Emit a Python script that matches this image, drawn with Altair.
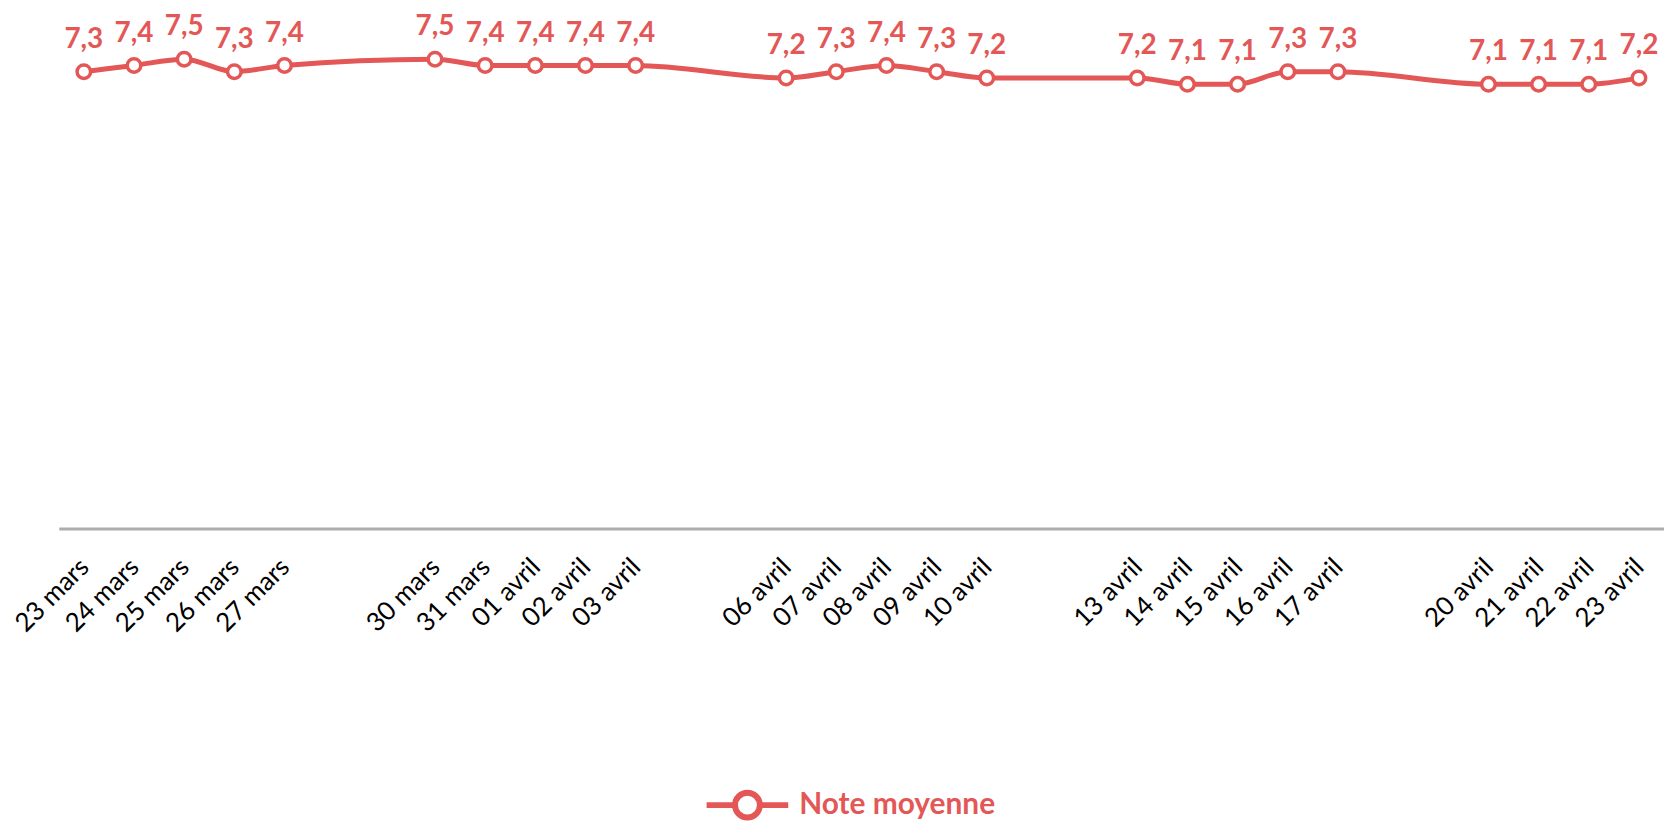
import altair as alt
import pandas as pd

dates = ["2020-03-23", "2020-03-24", "2020-03-25", "2020-03-26", "2020-03-27",
         "2020-03-30", "2020-03-31", "2020-04-01", "2020-04-02", "2020-04-03",
         "2020-04-06", "2020-04-07", "2020-04-08", "2020-04-09", "2020-04-10",
         "2020-04-13", "2020-04-14", "2020-04-15", "2020-04-16", "2020-04-17",
         "2020-04-20", "2020-04-21", "2020-04-22", "2020-04-23"]
notes = [7.3, 7.4, 7.5, 7.3, 7.4,
         7.5, 7.4, 7.4, 7.4, 7.4,
         7.2, 7.3, 7.4, 7.3, 7.2,
         7.2, 7.1, 7.1, 7.3, 7.3,
         7.1, 7.1, 7.1, 7.2]
serie = "Note moyenne"

RED = "#E35757"
FONT = "Lato"

df = pd.DataFrame({"date": dates, "note": notes, "serie": serie})

tick_values = [alt.DateTime(year=int(d[:4]), month=int(d[5:7]), date=int(d[8:]), utc=True) for d in dates]

x = alt.X(
    "date:T",
    scale=alt.Scale(type="utc", domain=[
        alt.DateTime(year=2020, month=3, date=22, hours=12, utc=True),
        alt.DateTime(year=2020, month=4, date=23, hours=12, utc=True)]),
    axis=alt.Axis(
        values=tick_values,
        labelExpr="utcFormat(datum.value, '%d') + ' ' + (utcmonth(datum.value) == 2 ? 'mars' : 'avril')",
        labelAngle=315, labelAlign="right", labelBaseline="alphabetic",
        labelPadding=40, labelOffset=6, labelFont=FONT, labelFontSize=26,
        labelColor="#000000", labelOverlap=False, labelBound=False, labelFlush=False,
        ticks=False, grid=False, domainColor="#ADADAD", domainWidth=3, title=None),
)
y = alt.Y("note:Q", scale=alt.Scale(domain=[0, 8], nice=False, zero=True), axis=None)

base = alt.Chart(df)

line = base.mark_line(strokeWidth=5, interpolate="monotone").encode(
    x=x, y=y,
    color=alt.Color("serie:N", scale=alt.Scale(range=[RED]), legend=alt.Legend(
        orient="none", legendX=648, legendY=737, title=None, padding=0,
        symbolType="M-1,0L-0.305,0M0.305,0L1,0M-0.305,0A0.305,0.305,0,1,0,0.305,0A0.305,0.305,0,1,0,-0.305,0Z",
        symbolSize=6724, symbolStrokeWidth=6, symbolFillColor="white", symbolStrokeColor=RED,
        labelFont=FONT, labelFontSize=30, labelFontWeight="bold", labelColor=RED, labelOffset=8,
        labelLimit=400)),
)
points = base.mark_point(filled=True, fill="white", stroke=RED, strokeWidth=3.5, size=185, opacity=1).encode(
    x=x, y=y)
labels = base.transform_calculate(
    lab="replace(format(datum.note, '.1f'), '.', ',')"
).mark_text(font=FONT, fontSize=28, fontWeight="bold", color=RED, dy=-24, baseline="alphabetic", align="center").encode(
    x=x, y=y, text="lab:N")

chart = alt.layer(line, points, labels).properties(
    width=1613, height=503,
    padding={"left": 51, "top": 18, "right": 0, "bottom": 292},
    autosize=alt.AutoSizeParams(type="none"),
).configure_view(stroke=None)

chart.save("out.html", embed_options={"renderer": "svg", "actions": False})
